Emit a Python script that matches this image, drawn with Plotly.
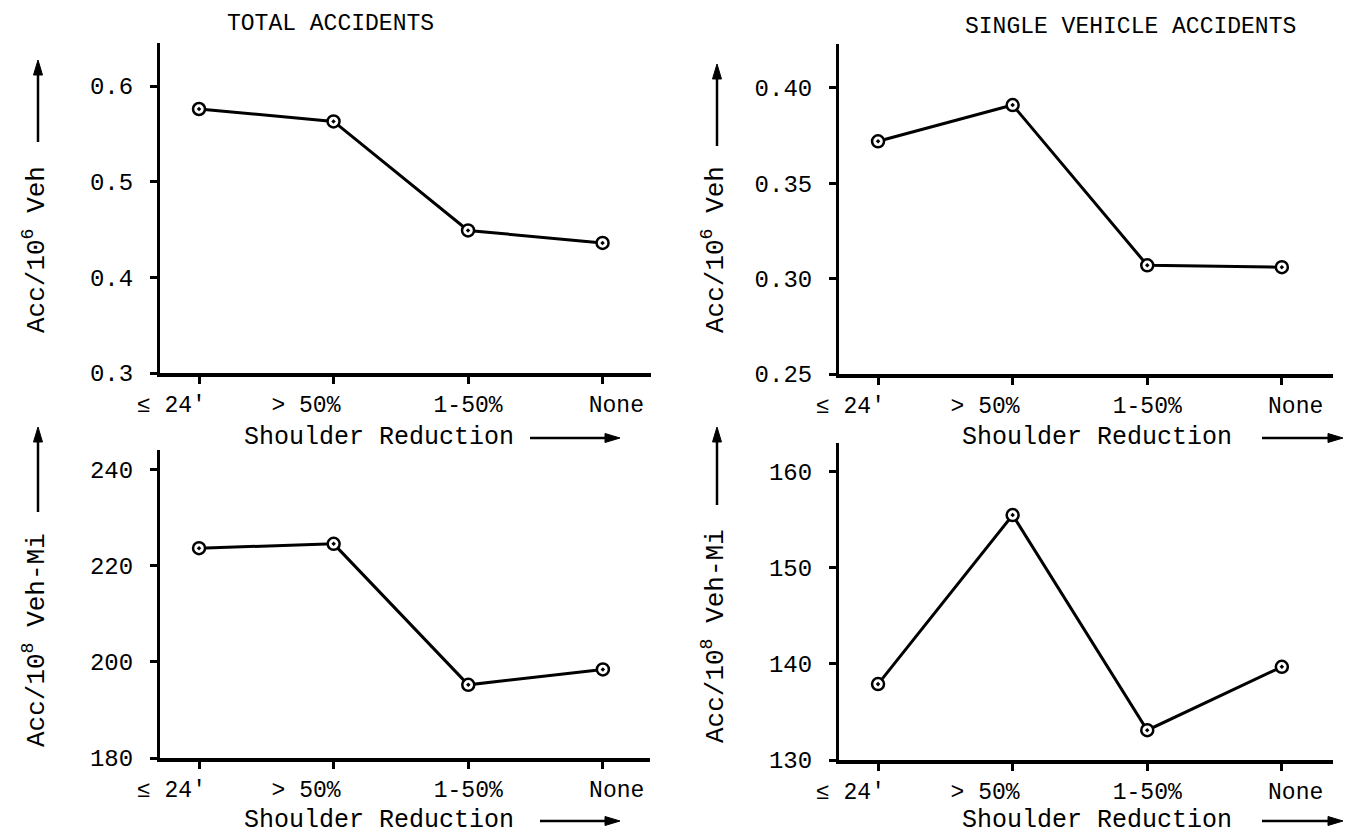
import plotly.graph_objects as go

W, H = 1352, 837

# Shoulder-reduction categories (x) and accident rates for each panel
categories = ["≤ 24'", "> 50%", "1-50%", "None"]
total_per_veh = [0.576, 0.563, 0.449, 0.436]      # Acc / 10^6 Veh
single_per_veh = [0.372, 0.391, 0.307, 0.306]     # Acc / 10^6 Veh
total_per_vmi = [223.6, 224.5, 195.2, 198.4]      # Acc / 10^8 Veh-Mi
single_per_vmi = [137.9, 155.5, 133.1, 139.7]     # Acc / 10^8 Veh-Mi

yticks_tl = [0.3, 0.4, 0.5, 0.6]
yticks_tr = [0.25, 0.30, 0.35, 0.40]
yticks_bl = [180, 200, 220, 240]
yticks_br = [130, 140, 150, 160]

FONT = "Liberation Mono"
NB = "\u00a0"
# category labels sit slightly off their tick marks, as typed on the original sheet
tick_text = [categories[0] + NB * 4, categories[1] + NB * 4, categories[2], NB * 2 + categories[3]]
xpos = list(range(len(categories)))


def px(x):
    return x / W


def py(y):
    return 1 - y / H


fig = go.Figure()

panels = [
    # (values, x axis id, y axis id, x domain px, y domain px (bottom, top), x range, y range, yticks, fmt)
    (total_per_veh, "x", "y", (160, 651), (373, 43), (-0.29, 3.36), (0.3, 0.645), yticks_tl, "{:.1f}"),
    (single_per_veh, "x2", "y2", (839, 1333), (374, 44), (-0.29, 3.38), (0.25, 0.423), yticks_tr, "{:.2f}"),
    (total_per_vmi, "x3", "y3", (160, 650), (758, 450), (-0.29, 3.35), (180, 244), yticks_bl, "{:.0f}"),
    (single_per_vmi, "x4", "y4", (839, 1333), (760, 443), (-0.29, 3.38), (130, 163), yticks_br, "{:.0f}"),
]

for vals, xa, ya, xd, yd, xr, yr, yt, fmt in panels:
    fig.add_trace(go.Scatter(
        x=xpos, y=vals, xaxis=xa, yaxis=ya, mode="lines+markers",
        line=dict(color="black", width=3),
        marker=dict(symbol="circle-dot", size=12, color="white",
                    line=dict(color="black", width=2.5)),
        showlegend=False, hoverinfo="skip",
    ))
    xl = "xaxis" + xa[1:]
    yl = "yaxis" + ya[1:]
    fig.layout[xl] = dict(
        domain=[px(xd[0]), px(xd[1])], anchor=ya, automargin=False,
        range=list(xr),
        tickvals=xpos, ticktext=tick_text,
        ticks="outside", ticklen=7, tickwidth=3, tickcolor="black",
        showline=True, linewidth=4, linecolor="black",
        showgrid=False, zeroline=False,
        tickfont=dict(family=FONT, size=23, color="black"),
    )
    fig.layout[yl] = dict(
        domain=[py(yd[0]), py(yd[1])], anchor=xa, automargin=False,
        range=list(yr),
        tickvals=yt, ticktext=[fmt.format(v) for v in yt],
        ticks="outside", ticklen=7, tickwidth=3, tickcolor="black",
        showline=True, linewidth=3, linecolor="black",
        showgrid=False, zeroline=False,
        ticklabelstandoff=12,
        tickfont=dict(family=FONT, size=24, color="black"),
    )

annotations = []
shapes = []


def note(text, x, y, size, angle=0):
    annotations.append(dict(text=text, x=px(x), y=py(y), xref="paper", yref="paper",
                            xanchor="center", yanchor="middle", textangle=angle,
                            showarrow=False, font=dict(family=FONT, size=size, color="black")))


def arrow(x0, y0, x1, y1, head=15, half=4.5):
    """Straight arrow from (x0, y0) to (x1, y1), in page pixels."""
    dx, dy = x1 - x0, y1 - y0
    n = (dx * dx + dy * dy) ** 0.5
    ux, uy = dx / n, dy / n
    bx, by = x1 - ux * head, y1 - uy * head
    shapes.append(dict(type="line", xref="paper", yref="paper",
                       x0=px(x0), y0=py(y0), x1=px(bx), y1=py(by),
                       line=dict(color="black", width=2.5)))
    pts = [(x1, y1), (bx - uy * half, by + ux * half), (bx + uy * half, by - ux * half)]
    path = "M " + " L ".join(f"{px(a):.5f},{py(b):.5f}" for a, b in pts) + " Z"
    shapes.append(dict(type="path", xref="paper", yref="paper", path=path,
                       fillcolor="black", line=dict(color="black", width=1)))


# panel headings
note("TOTAL ACCIDENTS", 330, 24, 23)
note("SINGLE VEHICLE ACCIDENTS", 1130, 27, 23)

# rotated y-axis titles with their upward arrows
for text, xc, yc, ax_x, head_y, tail_y in [
    ("Acc/10<sup>6</sup> Veh", 35, 250, 38, 60, 142),
    ("Acc/10<sup>6</sup> Veh", 714, 250, 717, 64, 146),
    ("Acc/10<sup>8</sup> Veh-Mi", 35, 640, 38, 427, 512),
    ("Acc/10<sup>8</sup> Veh-Mi", 714, 636, 717, 427, 505),
]:
    note(text, xc, yc, 26, angle=-90)
    arrow(ax_x, tail_y, ax_x, head_y)

# x-axis titles with rightward arrows
for xc, yc, tail_x, head_x in [
    (379, 437, 530, 620), (1097, 437, 1262, 1343),
    (379, 820, 540, 620), (1097, 820, 1262, 1343),
]:
    note("Shoulder Reduction", xc, yc, 25)
    arrow(tail_x, yc + 1, head_x, yc + 1)

fig.update_layout(
    width=W, height=H,
    margin=dict(l=0, r=0, t=0, b=0),
    paper_bgcolor="white", plot_bgcolor="white",
    annotations=annotations,
    shapes=shapes,
    showlegend=False,
)

fig.write_html("out.html")
